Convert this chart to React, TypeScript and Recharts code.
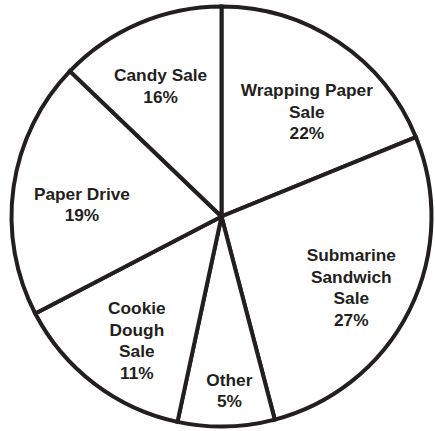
import React from "react";
import { PieChart, Pie, Cell } from "recharts";

// Slice names (one line per array entry separated by "\n")
const categories = [
  "Wrapping Paper\nSale",
  "Submarine\nSandwich\nSale",
  "Other",
  "Cookie\nDough\nSale",
  "Paper Drive",
  "Candy Sale",
];
// Percent labels printed on the chart
const percentLabels = ["22%", "27%", "5%", "11%", "19%", "16%"];
// Slice sizes as drawn in the picture (degrees of arc)
const drawnArc = [67.8, 97.5, 26.8, 50.4, 71.3, 46.2];

// label layout: radius fraction and angular nudge (degrees clockwise)
const labelRadius = [0.643, 0.705, 0.829, 0.715, 0.667, 0.686];
const labelNudge = [5.3, 2.2, -1.3, -3, -3.2, -1.9];

const data = categories.map((name, i) => ({
  name,
  value: drawnArc[i],
  pct: percentLabels[i],
}));

const INK = "#231f20";
const FONT_SIZE = 17.3;
const LINE_H = 21.5;

const renderLabel = (props: any) => {
  const { cx, cy, midAngle, outerRadius, index } = props;
  const cw = 90 - midAngle + labelNudge[index];
  const rad = (cw * Math.PI) / 180;
  const r = outerRadius * labelRadius[index];
  const x = cx + r * Math.sin(rad);
  const y = cy - r * Math.cos(rad);
  const lines = [...categories[index].split("\n"), percentLabels[index]];
  const start = y - ((lines.length - 1) / 2) * LINE_H;
  return (
    <text
      x={x}
      y={start}
      textAnchor="middle"
      dominantBaseline="central"
      fill={INK}
      fontFamily="'Liberation Sans', Arial, Helvetica, sans-serif"
      fontWeight="bold"
      fontSize={FONT_SIZE}
    >
      {lines.map((l, i) => (
        <tspan key={i} x={x} y={start + i * LINE_H} dominantBaseline="central">
          {l}
        </tspan>
      ))}
    </text>
  );
};

export default function App() {
  return (
    <div style={{ position: "absolute", left: 0, top: 0, width: 435, height: 431, background: "#fff" }}>
      <PieChart width={435} height={431} margin={{ top: 0, right: 0, bottom: 0, left: 0 }}>
        <Pie
          data={data}
          dataKey="value"
          nameKey="name"
          cx={221.5}
          cy={216.5}
          innerRadius={0}
          outerRadius={210}
          startAngle={90}
          endAngle={-270}
          stroke={INK}
          strokeWidth={4}
          fill="#ffffff"
          label={renderLabel}
          labelLine={false}
          isAnimationActive={false}
        >
          {data.map((_, i) => (
            <Cell key={i} fill="#ffffff" stroke={INK} strokeWidth={4} />
          ))}
        </Pie>
      </PieChart>
    </div>
  );
}
